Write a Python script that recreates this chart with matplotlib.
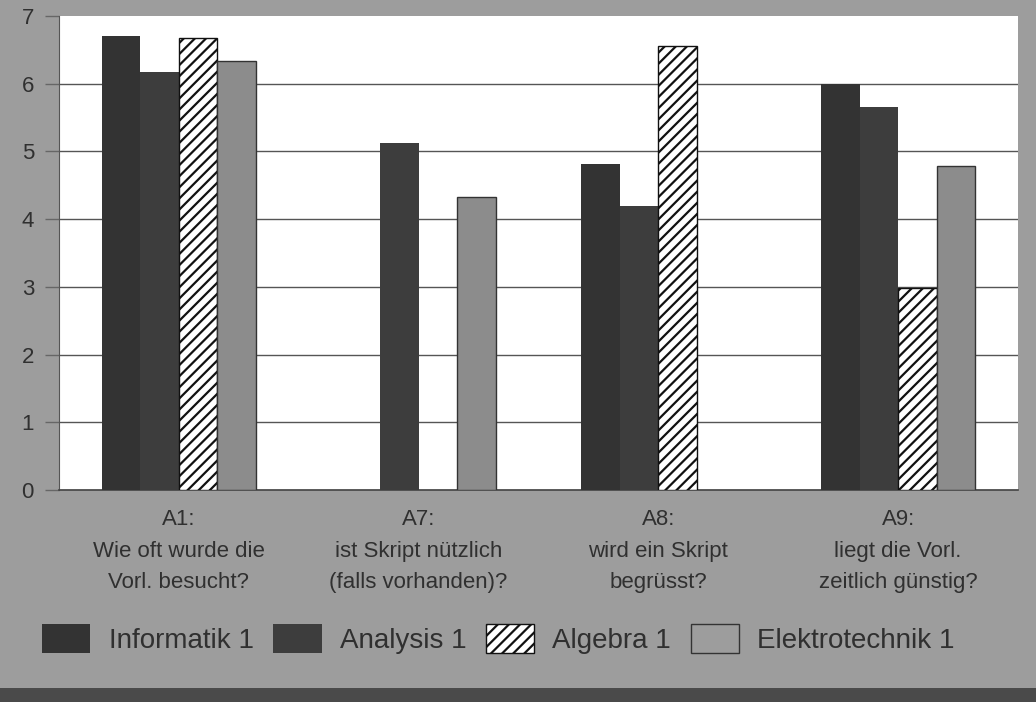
import matplotlib
matplotlib.use("Agg")
import matplotlib.pyplot as plt
from matplotlib.patches import Patch
import numpy as np

categories = ["A1:\nWie oft wurde die\nVorl. besucht?",
              "A7:\nist Skript nützlich\n(falls vorhanden)?",
              "A8:\nwird ein Skript\nbegrüsst?",
              "A9:\nliegt die Vorl.\nzeitlich günstig?"]
series_names = ["Informatik 1", "Analysis 1", "Algebra 1", "Elektrotechnik 1"]
informatik = [6.71, np.nan, 4.82, 5.99]
analysis = [6.18, 5.13, 4.20, 5.66]
algebra = [6.67, np.nan, 6.55, 2.98]
elektro = [6.34, 4.32, np.nan, 4.78]
yticks = [0, 1, 2, 3, 4, 5, 6, 7]

BG = "#9d9d9d"
TXT = "#303030"
plt.rcParams["hatch.linewidth"] = 1.6

fig = plt.figure(figsize=(10.36, 7.02), dpi=100, facecolor=BG)
ax = fig.add_axes([59/1036, 1-490/702, (1018-59)/1036, (490-16)/702])
ax.set_facecolor("white")

x = np.arange(len(categories))
w = 0.161
styles = [
    dict(color="#333333", edgecolor="none"),
    dict(color="#3d3d3d", edgecolor="none"),
    dict(color="white", edgecolor="#111111", hatch="///", linewidth=1.0),
    dict(color="#8c8c8c", edgecolor="#333333", linewidth=1.0),
]
data = [informatik, analysis, algebra, elektro]
for i, (vals, st) in enumerate(zip(data, styles)):
    ax.bar(x + (i - 1.5) * w, vals, w, zorder=3, **st)

ax.set_xlim(-0.5, 3.5)
ax.set_ylim(0, 7)
ax.set_yticks(yticks)
ax.set_yticklabels([str(t) for t in yticks], fontsize=16, color=TXT,
                   family="Liberation Sans")
ax.grid(axis="y", color="#555555", linewidth=1.0, zorder=0)
ax.set_axisbelow(True)
gl = ax.get_ygridlines()
gl[-1].set_visible(False)
ax.tick_params(axis="y", length=10, width=1, color="#666666", pad=8)
ax.set_xticks(x)
ax.set_xticklabels(categories, fontsize=16, color=TXT, linespacing=1.63,
                   family="Liberation Sans")
ax.tick_params(axis="x", length=0, pad=14)
for s in ["top", "right"]:
    ax.spines[s].set_visible(False)
ax.spines["left"].set_color("#555555")
ax.spines["bottom"].set_color("#444444")
ax.spines["bottom"].set_linewidth(1.2)

handles = [
    Patch(facecolor="#333333", edgecolor="none"),
    Patch(facecolor="#3d3d3d", edgecolor="none"),
    Patch(facecolor="white", edgecolor="#111111", hatch="///"),
    Patch(facecolor=BG, edgecolor="#333333", linewidth=1.0),
]
fig.legend(handles, series_names, loc="center", bbox_to_anchor=(0.481, 1-639/702),
           ncol=4, frameon=False, handlelength=1.75, handleheight=1.2,
           columnspacing=0.7, handletextpad=0.65, labelcolor=TXT,
           prop={"family": "Liberation Sans", "size": 20})

# dark bottom strip
fig.patches.append(plt.Rectangle((0, 0), 1, 14/702, transform=fig.transFigure,
                                 facecolor="#4a4a4a", edgecolor="none"))

fig.savefig("out.png", dpi=100, facecolor=BG)
